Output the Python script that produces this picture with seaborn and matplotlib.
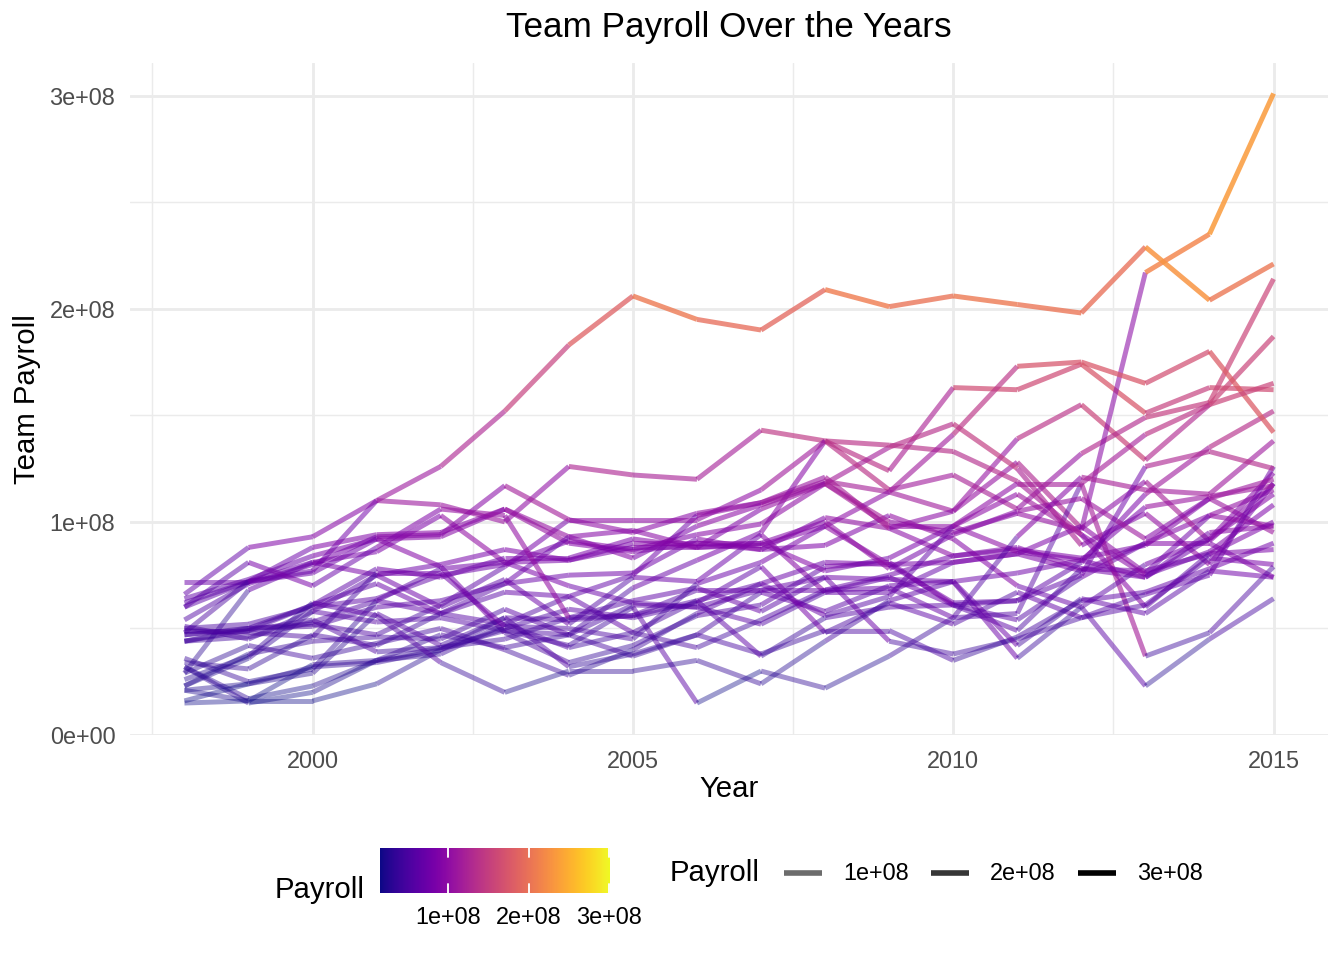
import numpy as np
import pandas as pd
import matplotlib
matplotlib.use("Agg")
import matplotlib.pyplot as plt
import seaborn as sns
from matplotlib.collections import LineCollection
from matplotlib.colors import Normalize
from matplotlib.lines import Line2D

# payroll per team, millions of dollars
years = list(range(1998, 2016))
ana = [44, 50, 52, 47, 61, 79, 101, 95, 104, 109, 119, 114, 105, 139, 155, 129, 155, 187]
ari = [29, 68, 81, 86, 103, 81, 70, 62, 60, 52, 67, 74, 61, 54, 74, 90, 90, 74]
atl = [64, 73, 84, 92, 93, 106, 90, 86, 90, 87, 102, 97, 84, 87, 83, 89, 111, 95]
bal = [72, 72, 81, 75, 60, 73, 52, 74, 72, 94, 67, 67, 81, 85, 77, 90, 103, 115]
bos = [60, 72, 77, 110, 108, 100, 126, 122, 120, 143, 138, 124, 163, 162, 174, 151, 163, 162]
cha = [36, 25, 31, 63, 57, 52, 65, 75, 103, 109, 121, 97, 105, 128, 97, 119, 91, 118]
chn = [50, 52, 60, 64, 75, 80, 91, 87, 94, 99, 118, 135, 146, 125, 89, 104, 80, 118]
cin = [23, 38, 44, 46, 45, 59, 47, 61, 60, 68, 74, 73, 72, 76, 82, 107, 112, 117]
cle = [62, 72, 76, 92, 79, 48, 34, 42, 56, 61, 79, 81, 61, 49, 78, 77, 85, 87]
col = [47, 50, 61, 71, 57, 67, 65, 48, 41, 54, 68, 75, 84, 88, 78, 74, 95, 98]
det = [23, 36, 58, 53, 55, 49, 47, 69, 82, 95, 138, 115, 122, 106, 132, 149, 156, 214]
fla = [32, 15, 20, 35, 41, 49, 42, 60, 15, 30, 22, 37, 55, 57, 118, 37, 48, 79]
hou = [47, 50, 51, 60, 63, 71, 75, 76, 92, 87, 89, 103, 92, 70, 60, 23, 45, 64]
kca = [32, 17, 23, 35, 47, 41, 47, 37, 47, 67, 58, 70, 72, 36, 60, 80, 92, 113]
lan = [48, 72, 88, 94, 95, 106, 93, 83, 98, 108, 118, 100, 95, 104, 96, 217, 235, 301]
mil = [29, 42, 36, 43, 50, 40, 28, 40, 57, 71, 81, 80, 81, 85, 98, 76, 103, 98]
mna = [21, 16, 16, 24, 40, 55, 54, 56, 63, 71, 56, 65, 98, 113, 94, 75, 86, 108]
mon = [15, 16, 33, 35, 38, 52, 41, 48, 63, 37, 55, 60, 61, 63, 81, 113, 135, 152]
nym = [54, 71, 80, 93, 94, 117, 101, 101, 101, 115, 138, 136, 133, 119, 94, 60, 85, 100]
nya = [66, 88, 93, 110, 126, 152, 183, 206, 195, 190, 209, 201, 206, 202, 198, 229, 204, 221]
oak = [21, 24, 32, 34, 40, 50, 59, 55, 62, 79, 48, 62, 52, 67, 55, 61, 83, 80]
phi = [34, 31, 47, 42, 57, 71, 93, 96, 88, 89, 98, 114, 141, 173, 175, 165, 180, 142]
pit = [16, 24, 29, 57, 42, 55, 32, 38, 47, 38, 49, 49, 35, 46, 63, 67, 78, 90]
sdn = [44, 49, 54, 39, 41, 45, 55, 63, 69, 58, 74, 44, 38, 45, 55, 66, 75, 126]
sea = [51, 45, 58, 75, 80, 87, 82, 88, 88, 106, 118, 98, 98, 86, 82, 74, 92, 123]
sfn = [44, 46, 53, 63, 78, 81, 82, 90, 90, 90, 77, 83, 98, 118, 118, 141, 155, 165]
sln = [49, 49, 61, 78, 74, 83, 83, 92, 88, 90, 100, 78, 94, 105, 111, 92, 111, 120]
tba = [26, 37, 62, 56, 34, 20, 30, 30, 35, 24, 44, 63, 72, 42, 64, 57, 77, 74]
tex = [60, 81, 70, 88, 106, 103, 55, 56, 68, 68, 68, 69, 55, 93, 121, 115, 113, 138]
tor = [49, 48, 46, 76, 76, 51, 50, 45, 71, 81, 98, 80, 62, 63, 75, 126, 133, 125]

teams = {"ANA": ana, "ARI": ari, "ATL": atl, "BAL": bal, "BOS": bos, "CHA": cha,
         "CHN": chn, "CIN": cin, "CLE": cle, "COL": col, "DET": det, "FLA": fla,
         "HOU": hou, "KCA": kca, "LAN": lan, "MIL": mil, "MIN": mna, "MON": mon,
         "NYM": nym, "NYA": nya, "OAK": oak, "PHI": phi, "PIT": pit, "SDN": sdn,
         "SEA": sea, "SFN": sfn, "SLN": sln, "TBA": tba, "TEX": tex, "TOR": tor}

rows = []
for t, vals in teams.items():
    for yr, v in zip(years, vals):
        rows.append((t, yr, v * 1e6))
df = pd.DataFrame(rows, columns=["team", "year", "payroll"])

sns.set_theme(style="whitegrid")
plt.rcParams["font.family"] = ["Liberation Sans", "DejaVu Sans"]
plt.rcParams["text.color"] = "black"

W, H = 1344, 960
fig = plt.figure(figsize=(7, 5), dpi=192)
ax = fig.add_axes([130 / W, 1 - 735 / H, 1198 / W, 672 / H])

vmin, vmax = df["payroll"].min(), df["payroll"].max()
norm = Normalize(vmin, vmax)
cmap = sns.color_palette("plasma", as_cmap=True)

def alpha_of(v):
    return 0.4 + 0.6 * norm(v)

# each segment gets colour and alpha of its starting point (like geom_line)
for t, g in df.groupby("team", sort=False):
    g = g.sort_values("year")
    pts = g[["year", "payroll"]].to_numpy()
    segs = np.stack([pts[:-1], pts[1:]], axis=1)
    start = pts[:-1, 1]
    cols = cmap(norm(start))
    cols[:, 3] = alpha_of(start)
    ax.add_collection(LineCollection(segs, colors=cols, linewidths=1.85, capstyle="butt"))

xpad = (max(years) - min(years)) * 0.05
ypad = (vmax - vmin) * 0.05
ax.set_xlim(min(years) - xpad, max(years) + xpad)
ax.set_ylim(vmin - ypad, vmax + ypad)

ax.set_facecolor("white")
for s in ax.spines.values():
    s.set_visible(False)
ax.set_xticks([2000, 2005, 2010, 2015])
ax.set_xticks([1997.5, 2002.5, 2007.5, 2012.5], minor=True)
ax.set_yticks([0, 1e8, 2e8, 3e8])
ax.set_yticklabels(["0e+00", "1e+08", "2e+08", "3e+08"])
ax.set_yticks([0.5e8, 1.5e8, 2.5e8], minor=True)
ax.grid(which="major", color="#EBEBEB", linewidth=1.07)
ax.grid(which="minor", color="#EBEBEB", linewidth=0.55)
ax.set_axisbelow(True)
ax.tick_params(which="both", length=0, labelsize=8.8, labelcolor="#4D4D4D", pad=5.5)

fig.text(729 / W, 1 - 28 / H, "Team Payroll Over the Years", ha="center", va="center", fontsize=13.2)
fig.text(729 / W, 1 - 789 / H, "Year", ha="center", va="center", fontsize=11)
fig.text(27 / W, 1 - 399 / H, "Team Payroll", ha="center", va="center", fontsize=11, rotation=90)

# colour bar legend
cax = fig.add_axes([380 / W, 1 - 893 / H, 230 / W, 45 / H])
cax.imshow(np.linspace(0, 1, 300)[None, :], aspect="auto", cmap=cmap,
           extent=[vmin, vmax, 0, 1])
for v in [1e8, 2e8, 3e8]:
    cax.plot([v, v], [0, 0.19], color="white", lw=0.7)
    cax.plot([v, v], [0.81, 1], color="white", lw=0.7)
    fig.text((380 + (v - vmin) / (vmax - vmin) * 230) / W, 1 - 917 / H,
             "%de+08" % int(v / 1e8), ha="center", va="center", fontsize=8.8)
cax.set_xlim(vmin, vmax)
cax.set_ylim(0, 1)
cax.axis("off")
fig.text(275 / W, 1 - 890 / H, "Payroll", ha="left", va="center", fontsize=11)

# alpha legend
ly = 1 - 873 / H
fig.text(670 / W, ly, "Payroll", ha="left", va="center", fontsize=11)
for i, v in enumerate([1e8, 2e8, 3e8]):
    x0 = 784 + i * 147
    fig.add_artist(Line2D([x0 / W, (x0 + 38) / W], [ly, ly], transform=fig.transFigure,
                          color="black", alpha=alpha_of(v), lw=2.1, solid_capstyle="butt"))
    fig.text((x0 + 59) / W, ly, "%de+08" % int(v / 1e8), ha="left", va="center", fontsize=8.8)

fig.savefig("out.png", dpi=192, facecolor="white")
